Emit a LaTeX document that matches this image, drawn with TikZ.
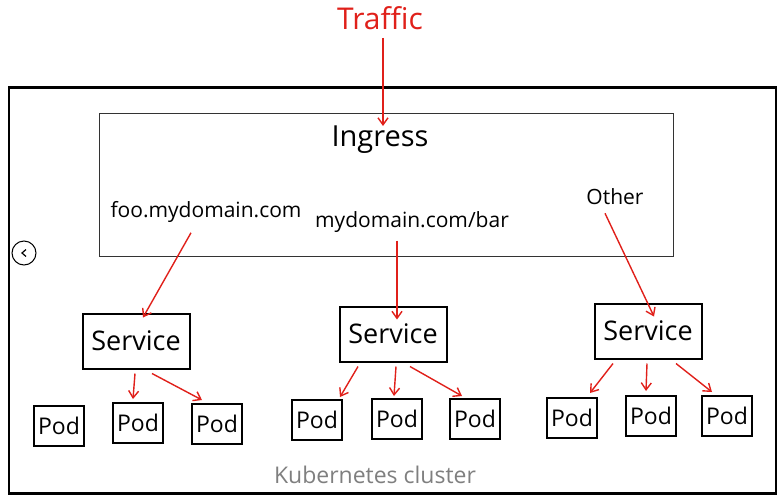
\documentclass[tikz,border=0pt]{standalone}
\usepackage{fontspec}
\setmainfont{Open Sans}
\usetikzlibrary{arrows.meta}
\definecolor{tred}{HTML}{E0201A}
\definecolor{tgray}{HTML}{7F7F7F}
\tikzset{
  arr/.style={draw=tred, line width=1.4pt, -{Straight Barb[length=7pt,width=10pt]}},
  svcbox/.style={draw, line width=2pt, minimum width=107pt, minimum height=55pt, font=\fontsize{27}{30}\selectfont, inner sep=0pt},
  podbox/.style={draw, line width=2pt, minimum width=50pt, minimum height=40pt, font=\fontsize{23}{26}\selectfont, inner sep=0pt},
  lbl/.style={font=\fontsize{21}{24}\selectfont, inner sep=0pt},
}
\begin{document}
\begin{tikzpicture}[x=1pt,y=-1pt]
\useasboundingbox (0,0) rectangle (780,501);
% cluster
\node[draw, line width=2.4pt, minimum width=767pt, minimum height=406pt, inner sep=0pt] (cluster) at (392.5,290.5) {};
\node[text=tgray, font=\fontsize{23}{26}\selectfont, inner sep=0pt] (kc) at (375,475) {Kubernetes cluster};
% ingress
\node[draw=black!80, line width=0.9pt, minimum width=574pt, minimum height=143pt, inner sep=0pt] (ingress) at (386,184.5) {};
\node[font=\fontsize{29}{32}\selectfont, inner sep=0pt] (ingtxt) at (380,140) {Ingress};
\node[text=tred, font=\fontsize{30}{34}\selectfont, inner sep=0pt] (traffic) at (380,18) {Traffic};
\coordinate (tin) at (383,126);
\draw[arr] ([yshift=-8pt,xshift=3pt]traffic.south) -- (tin);
% labels
\node[lbl] (foo) at (206,212) {foo.mydomain.com};
\node[lbl] (bar) at (412,222) {mydomain.com/bar};
\node[lbl] (other) at (615,197) {Other};
% circle icon
\node[draw, circle, line width=1pt, minimum size=24pt, inner sep=0pt] (back) at (24,253) {};
\draw[line width=1.2pt] ([xshift=2pt,yshift=3.5pt]back.center) -- ([xshift=-2pt]back.center) -- ([xshift=2pt,yshift=-3.5pt]back.center);
% services
\node[svcbox] (s1) at (136,341) {Service};
\node[svcbox] (s2) at (393,334) {Service};
\node[svcbox] (s3) at (648,331) {Service};
% pods
\node[podbox] (p11) at (59,426) {Pod};
\node[podbox] (p12) at (138,423) {Pod};
\node[podbox] (p13) at (217,424) {Pod};
\node[podbox] (p21) at (317,420) {Pod};
\node[podbox] (p22) at (397,419) {Pod};
\node[podbox] (p23) at (475,419) {Pod};
\node[podbox] (p31) at (572,418) {Pod};
\node[podbox] (p32) at (651,416) {Pod};
\node[podbox] (p33) at (727,416) {Pod};
% ingress to services
\draw[arr] ([xshift=-15pt,yshift=-10pt]foo.south) -- ([xshift=7pt,yshift=-5pt]s1.north);
\draw[arr] ([xshift=-15pt,yshift=-8pt]bar.south) -- ([xshift=4pt,yshift=-14pt]s2.north);
\draw[arr] ([xshift=-10pt,yshift=-8pt]other.south) -- ([xshift=6pt,yshift=-14pt]s3.north);
% services to pods
\draw[arr] ([xshift=-1pt,yshift=-4pt]s1.south) -- ([xshift=-5pt,yshift=3pt]p12.north);
\draw[arr] ([xshift=16pt,yshift=-4pt]s1.south) -- ([xshift=-15pt,yshift=3pt]p13.north);
\draw[arr] ([xshift=-35pt,yshift=-4pt]s2.south) -- ([xshift=23pt,yshift=2pt]p21.north);
\draw[arr] ([xshift=3pt,yshift=-4pt]s2.south) -- ([xshift=-3pt,yshift=2pt]p22.north);
\draw[arr] ([xshift=17pt,yshift=-4pt]s2.south) -- ([xshift=-13pt,yshift=2pt]p23.north);
\draw[arr] ([xshift=-35pt,yshift=-4pt]s3.south) -- ([xshift=18pt,yshift=4pt]p31.north);
\draw[arr] ([xshift=-1pt,yshift=-4pt]s3.south) -- ([xshift=-5pt,yshift=4pt]p32.north);
\draw[arr] ([xshift=28pt,yshift=-4pt]s3.south) -- ([xshift=-15pt,yshift=3pt]p33.north);
\end{tikzpicture}
\end{document}
